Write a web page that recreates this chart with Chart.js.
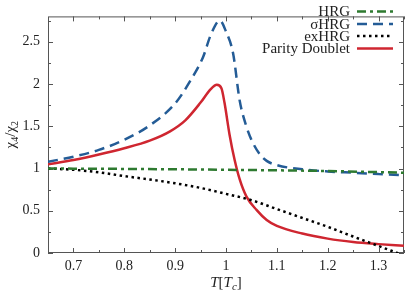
<!DOCTYPE html>
<html>
<head>
<meta charset="utf-8">
<script src="https://cdn.jsdelivr.net/npm/chart.js@4"></script>
<style>
  html, body { margin: 0; padding: 0; background: #fff; }
  #wrap { width: 407px; height: 293px; }
</style>
</head>
<body>
<div id="wrap"><canvas id="chi"></canvas></div>
<script>
// values
const tHRG = [0.65, 0.80, 1.00, 1.20, 1.35];
const hrg = [1.0, 0.995, 0.985, 0.97, 0.95];

const tSigma = [0.65, 0.70, 0.75, 0.80, 0.85, 0.90, 0.93, 0.955, 0.97, 0.988, 1.0, 1.014, 1.027, 1.04, 1.05, 1.065, 1.08, 1.10, 1.15, 1.20, 1.25, 1.30, 1.35];
const sigmaHRG = [1.08, 1.14, 1.22, 1.34, 1.51, 1.77, 2.04, 2.32, 2.58, 2.75, 2.62, 2.36, 1.80, 1.50, 1.34, 1.18, 1.09, 1.04, 0.99, 0.965, 0.95, 0.935, 0.92];

const tEx = [0.65, 0.70, 0.75, 0.80, 0.85, 0.90, 0.95, 1.00, 1.05, 1.10, 1.15, 1.20, 1.25, 1.30, 1.35];
const exHRG = [1.0, 0.985, 0.955, 0.91, 0.87, 0.825, 0.77, 0.70, 0.625, 0.52, 0.415, 0.31, 0.195, 0.083, -0.03];

const tPD = [0.65, 0.70, 0.75, 0.80, 0.85, 0.89, 0.92, 0.95, 0.97, 0.982, 0.991, 0.997, 1.007, 1.017, 1.027, 1.040, 1.060, 1.08, 1.10, 1.15, 1.20, 1.25, 1.30, 1.35];
const parityDoublet = [1.05, 1.10, 1.165, 1.24, 1.33, 1.44, 1.57, 1.78, 1.94, 1.99, 1.95, 1.78, 1.40, 1.10, 0.87, 0.67, 0.51, 0.39, 0.32, 0.23, 0.17, 0.13, 0.105, 0.085];

const xTicks = [0.7, 0.8, 0.9, 1.0, 1.1, 1.2, 1.3];
const xMinor = [0.75, 0.85, 0.95, 1.05, 1.15, 1.25, 1.35];
const yTicks = [0, 0.5, 1, 1.5, 2, 2.5];
const yMinor = [0.25, 0.75, 1.25, 1.75, 2.25, 2.75];

const serif = "'Liberation Serif', 'DejaVu Serif', serif";

function pts(xs, ys) {
    return xs.map((x, i) => ({ x: x, y: ys[i] }));
}

// frame with inward ticks on all four sides, legend and axis titles
const framePlugin = {
    id: "frame",
    beforeDatasetsDraw(chart) {
        const ctx = chart.ctx;
        const a = chart.chartArea;
        const sx = chart.scales.x, sy = chart.scales.y;
        ctx.save();
        ctx.strokeStyle = "#555";
        ctx.lineWidth = 1;
        ctx.strokeRect(a.left + 0.5, a.top + 0.5, a.right - a.left - 1, a.bottom - a.top - 1);
        ctx.beginPath();
        const tick = (v, len) => {
            const px = Math.round(sx.getPixelForValue(v)) + 0.5;
            ctx.moveTo(px, a.bottom); ctx.lineTo(px, a.bottom - len);
            ctx.moveTo(px, a.top); ctx.lineTo(px, a.top + len);
        };
        xTicks.forEach(v => tick(v, 5));
        xMinor.forEach(v => tick(v, 3));
        const ytick = (v, len) => {
            const py = Math.round(sy.getPixelForValue(v)) + 0.5;
            ctx.moveTo(a.left, py); ctx.lineTo(a.left + len, py);
            ctx.moveTo(a.right, py); ctx.lineTo(a.right - len, py);
        };
        yTicks.forEach(v => ytick(v, 5));
        yMinor.forEach(v => ytick(v, 3));
        ctx.stroke();
        ctx.restore();
    },
    afterDraw(chart) {
        const ctx = chart.ctx;
        const a = chart.chartArea;
        ctx.save();
        ctx.fillStyle = "#222";
        // legend, text on the left of the sample
        ctx.font = "15px " + serif;
        ctx.textAlign = "right";
        ctx.textBaseline = "middle";
        const rows = [11.5, 24, 36, 48.5];
        chart.data.datasets.forEach((ds, i) => {
            const y = rows[i];
            ctx.fillStyle = "#222";
            ctx.fillText(ds.label, 350, y + 1);
            ctx.beginPath();
            ctx.strokeStyle = ds.borderColor;
            ctx.lineWidth = ds.borderWidth;
            ctx.setLineDash(ds.borderDash || []);
            ctx.moveTo(357, y);
            ctx.lineTo(393, y);
            ctx.stroke();
        });
        ctx.setLineDash([]);
        // x title T[T_c]
        const cx = (a.left + a.right) / 2;
        ctx.textAlign = "left";
        ctx.textBaseline = "alphabetic";
        ctx.font = "italic 15px " + serif;
        const w1 = ctx.measureText("T").width;
        ctx.font = "15px " + serif;
        const w2 = ctx.measureText("[").width;
        ctx.font = "italic 15px " + serif;
        const w3 = ctx.measureText("T").width;
        ctx.font = "italic 11px " + serif;
        const w4 = ctx.measureText("c").width;
        ctx.font = "15px " + serif;
        const w5 = ctx.measureText("]").width;
        let x = cx - (w1 + w2 + w3 + w4 + w5) / 2;
        const by = 287;
        ctx.font = "italic 15px " + serif; ctx.fillText("T", x, by); x += w1;
        ctx.font = "15px " + serif; ctx.fillText("[", x, by); x += w2;
        ctx.font = "italic 15px " + serif; ctx.fillText("T", x, by); x += w3;
        ctx.font = "italic 11px " + serif; ctx.fillText("c", x, by + 3); x += w4;
        ctx.font = "15px " + serif; ctx.fillText("]", x, by);
        // y title chi_4 / chi_2
        ctx.translate(15, (a.top + a.bottom) / 2);
        ctx.rotate(-Math.PI / 2);
        const parts = [["χ", 15, 0], ["4", 10, 3], ["/", 15, 0], ["χ", 15, 0], ["2", 10, 3]];
        let tw = 0;
        parts.forEach(p => { ctx.font = p[1] + "px " + serif; tw += ctx.measureText(p[0]).width; });
        let px = -tw / 2;
        parts.forEach(p => {
            ctx.font = p[1] + "px " + serif;
            ctx.fillText(p[0], px, p[2]);
            px += ctx.measureText(p[0]).width;
        });
        ctx.restore();
    }
};

const ctx = document.getElementById("chi").getContext("2d");
const chiChart = new Chart(ctx, {
    type: "line",
    data: {
        datasets: [
            {
                label: "HRG",
                data: pts(tHRG, hrg),
                borderColor: "#2e7a30",
                borderWidth: 2.5,
                borderDash: [9, 4, 3, 4]
            },
            {
                label: "σHRG",
                data: pts(tSigma, sigmaHRG),
                borderColor: "#245c96",
                borderWidth: 2.5,
                borderDash: [10, 6]
            },
            {
                label: "exHRG",
                data: pts(tEx, exHRG),
                borderColor: "#000000",
                borderWidth: 2.5,
                borderDash: [2.5, 3.5]
            },
            {
                label: "Parity Doublet",
                data: pts(tPD, parityDoublet),
                borderColor: "#cf2630",
                borderWidth: 2.5
            }
        ]
    },
    options: {
        responsive: true,
        maintainAspectRatio: false,
        animation: false,
        layout: { padding: { top: 1, right: 3, left: 0, bottom: 0 } },
        elements: {
            point: { radius: 0 },
            line: { cubicInterpolationMode: "monotone", fill: false }
        },
        plugins: {
            legend: { display: false },
            tooltip: { enabled: false }
        },
        scales: {
            x: {
                type: "linear",
                min: 0.65,
                max: 1.35,
                grid: { display: false, drawTicks: false },
                border: { display: false },
                afterBuildTicks: s => { s.ticks = xTicks.map(v => ({ value: v })); },
                afterFit: s => { s.height = 40; },
                ticks: {
                    padding: 5,
                    maxRotation: 0,
                    color: "#222",
                    font: { family: serif, size: 14 },
                    callback: v => v === 1 ? "1" : v.toFixed(1)
                }
            },
            y: {
                min: 0,
                max: 2.8,
                grid: { display: false, drawTicks: false },
                border: { display: false },
                afterBuildTicks: s => { s.ticks = yTicks.map(v => ({ value: v })); },
                afterFit: s => { s.width = 48; },
                ticks: {
                    padding: 8,
                    color: "#222",
                    font: { family: serif, size: 14 },
                    callback: v => String(v)
                }
            }
        }
    },
    plugins: [framePlugin]
});
</script>
</body>
</html>
